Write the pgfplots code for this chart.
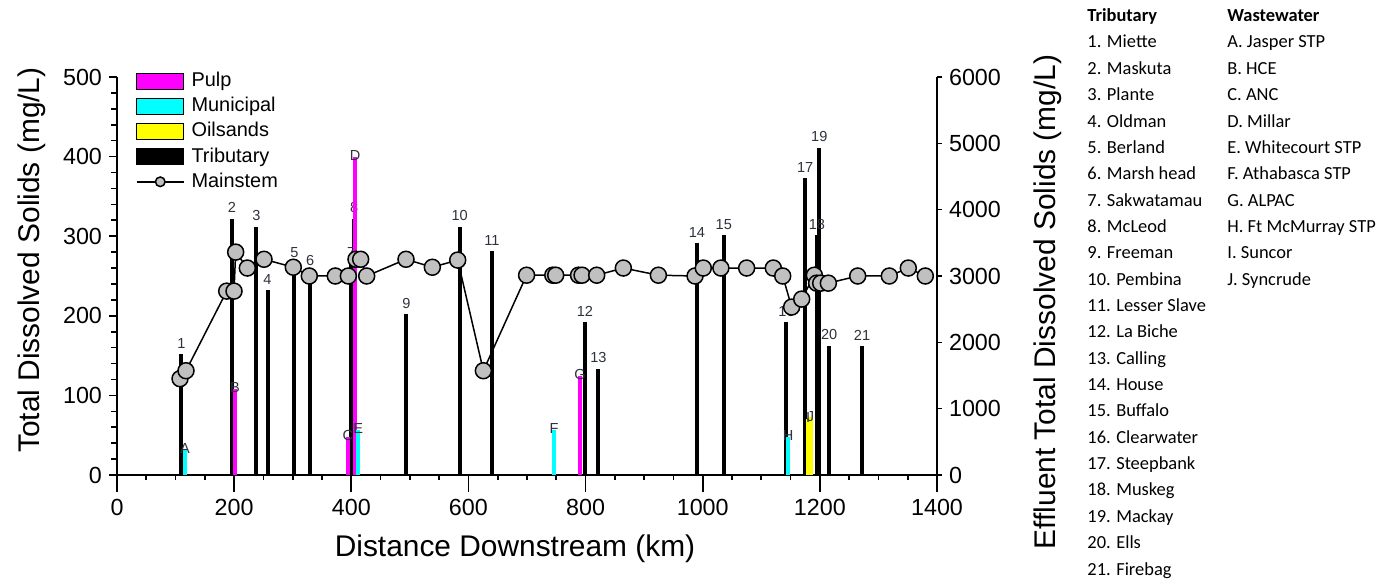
\documentclass[border=0pt]{standalone}
\usepackage{pgfplots}
\usepackage{pgfplotstable}
\pgfplotsset{compat=1.18}
\usepackage{fontspec}
\setmainfont{Liberation Sans}
\newfontfamily\calibri{Carlito}
\definecolor{pulp}{RGB}{255,0,255}
\definecolor{muni}{RGB}{0,255,255}
\definecolor{oil}{RGB}{255,255,0}
\definecolor{mgray}{RGB}{192,192,192}
\definecolor{labc}{RGB}{45,50,60}

\pgfplotstableread{
x y label
110 152 1
196 322 2
238 312 3
257 232 4
303 265 5
330 255 6
400 266 7
405 322 8
494 202 9
585 312 10
640 281 11
799 192 12
822 133 13
990 291 14
1036 301 15
1143 192 16
1175 373 17
1195 301 18
1199 411 19
1216 162 20
1272 162 21
}\trib

\pgfplotstableread{
x y label
201.5 1300 B
394 580 C
406.5 4800 D
790.5 1500 G
}\pulpdata

\pgfplotstableread{
x y label
116 380 A
412 680 E
746 680 F
1146 580 H
}\munidata

\pgfplotstableread{
x y label
1180 850 I
1184 870 J
}\oildata

\pgfplotstableread{
x y
107.6 121
117.8 131
187.3 231
199.8 231
202.6 280
222.5 260
251 271
301 261
328.3 250
372.7 250
395 250
408 271
416 271
426.3 250
493.4 271
538.4 261
581.7 270
625.5 131
699.3 251
744 251
749 251
788 251
794 251
819 251
864.5 260
924.3 251
986.9 250
1001 260
1031 260
1075 260
1120.5 260
1136.6 250
1151.8 211
1169 221
1190.6 251
1194.5 241
1201.4 241
1214.5 241
1264.6 250
1318.6 250
1351 260
1380 250
}\mainstem

\pgfplotsset{
  base/.style={
    width=410bp, height=199bp, scale only axis,
    at={(0,0)}, anchor=south west,
    xmin=0, xmax=1400,
    /pgf/number format/assume math mode=true,
    /pgf/number format/1000 sep={},
    scaled ticks=false,
    tick label style={font=\fontsize{11.7}{13}\selectfont},
    label style={font=\fontsize{15}{18}\selectfont},
    tick align=outside,
    axis line style={line width=1bp},
    every tick/.style={black, line width=0.8bp},
    clip=false,
  },
  numlab/.style={nodes near coords, point meta=explicit symbolic,
    every node near coord/.style={font=\fontsize{7.3}{8.5}\selectfont, anchor=south, inner sep=1bp, yshift=1bp, text=labc}},
  letlab/.style={nodes near coords, point meta=explicit symbolic,
    every node near coord/.style={font=\fontsize{7.3}{8.5}\selectfont, anchor=center, inner sep=0bp, yshift=0.5bp, text=labc}},
  bar leg/.style={legend image code/.code={\fill[##1] (0bp,-4bp) rectangle (23.5bp,4bp);}},
  line leg/.style={legend image code/.code={\draw[mark repeat=2, mark phase=2, mark size=2.4bp, ##1] plot coordinates {(0bp,0bp) (11.75bp,0bp) (23.5bp,0bp)};}},
}

\begin{document}
\begin{tikzpicture}
\useasboundingbox (-58.5bp,-54bp) rectangle (637.5bp,237.5bp);

% x axis + tributary bars (left scale)
\begin{axis}[base, ymin=0, ymax=500,
  axis x line*=bottom, axis y line=none,
  xtick={0,200,...,1400}, minor x tick num=3,
  major tick length=8.5bp, minor tick length=2.5bp,
  xlabel={Distance Downstream (km)},
  xlabel style={at={(axis description cs:0.4854,-0.186)}, anchor=center}]
\addplot[ycomb, line width=2bp, black, numlab] table[x=x, y=y, meta=label] {\trib};
\end{axis}

% right axis + wastewater bars
\begin{axis}[base, ymin=0, ymax=6000,
  axis x line=none, axis y line*=right,
  ytick={0,1000,...,6000},
  major tick length=2.5bp,
  ylabel={Effluent Total Dissolved Solids (mg/L)},
  ylabel style={at={(axis description cs:1.1354,0.435)}, anchor=center}]
\addplot[ycomb, line width=2bp, pulp, letlab] table[x=x, y=y, meta=label] {\pulpdata};
\addplot[ycomb, line width=2bp, muni, letlab] table[x=x, y=y, meta=label] {\munidata};
\addplot[ycomb, line width=2.5bp, oil, letlab] table[x=x, y=y, meta=label] {\oildata};
\end{axis}

% left axis + mainstem + legend
\begin{axis}[base, ymin=0, ymax=500,
  axis x line=none, axis y line*=left,
  ytick={0,100,...,500}, minor y tick num=4,
  major tick length=4bp, minor tick length=3bp,
  ylabel={Total Dissolved Solids (mg/L)},
  ylabel style={at={(axis description cs:-0.1037,0.540)}, anchor=center},
  legend cell align=left,
  legend style={at={(axis description cs:0.0232,1.0214)}, anchor=north west,
    draw=none, fill=none, inner sep=0pt, outer sep=0pt,
    font=\fontsize{10}{12}\selectfont,
    nodes={inner sep=1bp, text height=8bp, text depth=2.5bp},
    row sep=0.1bp, column sep=2.5bp},
]
\addlegendimage{bar leg, fill=pulp}
\addlegendentry{Pulp}
\addlegendimage{bar leg, fill=muni}
\addlegendentry{Municipal}
\addlegendimage{bar leg, fill=oil}
\addlegendentry{Oilsands}
\addlegendimage{bar leg, fill=black}
\addlegendentry{Tributary}
\addplot[black, line width=0.75bp, mark=*, mark size=4bp,
  mark options={fill=mgray, draw=black, line width=0.75bp}, line leg]
  table[x=x, y=y] {\mainstem};
\addlegendentry{Mainstem}
\end{axis}

% side lists
\begin{scope}[every node/.style={anchor=base west, inner sep=0pt, font=\calibri\fontsize{9.25}{11}\selectfont}]
\node[font=\calibri\bfseries\fontsize{9.25}{11}\selectfont] at (485bp,226.7bp) {Tributary};
\node[font=\calibri\bfseries\fontsize{9.25}{11}\selectfont] at (555bp,226.7bp) {Wastewater};
\foreach \t [count=\i] in {1. Miette, 2. Maskuta, 3. Plante, 4. Oldman, 5. Berland, 6. Marsh head, 7. Sakwatamau, 8. McLeod, 9. Freeman, 10. Pembina, 11. Lesser Slave, 12. La Biche, 13. Calling, 14. House, 15. Buffalo, 16. Clearwater, 17. Steepbank, 18. Muskeg, 19. Mackay, 20. Ells, 21. Firebag}
  \node at (485bp,{213.5bp-(\i-1)*13.175bp}) {\t};
\foreach \t [count=\i] in {A. Jasper STP, B. HCE, C. ANC, D. Millar, E. Whitecourt STP, F. Athabasca STP, G. ALPAC, H. Ft McMurray STP, I. Suncor, J. Syncrude}
  \node at (555bp,{213.5bp-(\i-1)*13.175bp}) {\t};
\end{scope}
\end{tikzpicture}
\end{document}
